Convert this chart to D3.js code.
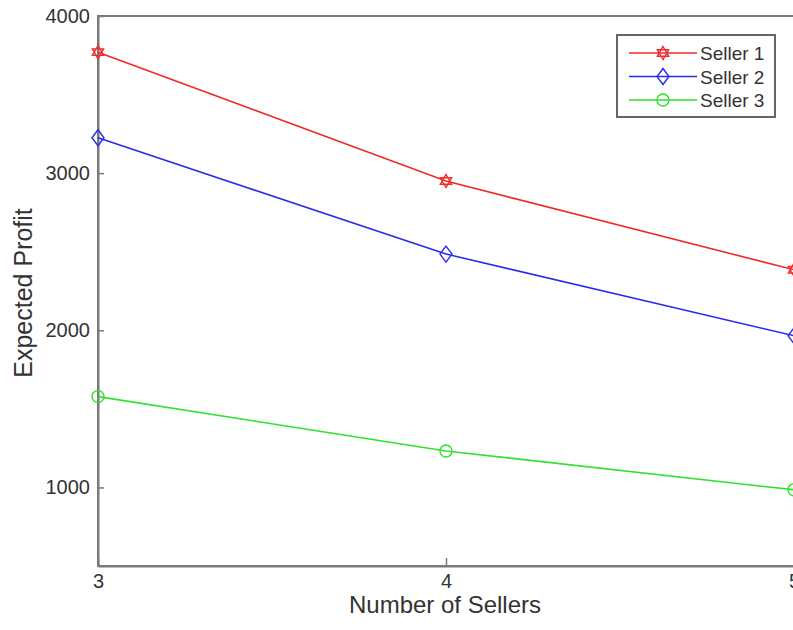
<!DOCTYPE html>
<html>
<head>
<meta charset="utf-8">
<script src="https://cdn.jsdelivr.net/npm/d3@7"></script>
<style>
  body { margin: 0; background: #fff; }
  text { font-family: "Liberation Sans", Arial, sans-serif; fill: #333; }
</style>
</head>
<body>
<svg id="chart" width="793" height="630"></svg>
<script>
// data
var sellerCounts = [3, 4, 5];
var seller1 = [3770, 2950, 2385];
var seller2 = [3225, 2485, 1965];
var seller3 = [1578, 1232, 985];
var yTicks = [1000, 2000, 3000, 4000];
var seriesNames = ["Seller 1", "Seller 2", "Seller 3"];

var margin = {left: 98, top: 16, right: 794, bottom: 566};

var svg = d3.select("#chart");

var x = d3.scaleLinear().domain([3, 5]).range([margin.left, margin.right]);
var y = d3.scaleLinear().domain([500, 4000]).range([margin.bottom, margin.top]);

// box
svg.append("rect")
  .attr("x", margin.left).attr("y", margin.top)
  .attr("width", margin.right - margin.left).attr("height", margin.bottom - margin.top)
  .attr("fill", "none").attr("stroke", "#7a7a7a").attr("stroke-width", 2);

// axes, ticks pointing inside like matlab
var yAxis = svg.append("g")
  .attr("transform", "translate(" + margin.left + ",0)")
  .call(d3.axisLeft(y).tickValues(yTicks).tickFormat(d3.format("d"))
    .tickSizeInner(-6).tickSizeOuter(0).tickPadding(8));
var xAxis = svg.append("g")
  .attr("transform", "translate(0," + margin.bottom + ")")
  .call(d3.axisBottom(x).tickValues(sellerCounts).tickFormat(d3.format("d"))
    .tickSizeInner(-8).tickSizeOuter(0).tickPadding(8));

[yAxis, xAxis].forEach(function(g) {
  g.select(".domain").attr("stroke", "#7a7a7a").attr("stroke-width", 2);
  g.selectAll(".tick line").attr("stroke", "#7a7a7a").attr("stroke-width", 1.5);
  g.selectAll(".tick text").style("font-size", "20px").attr("fill", "#333")
    .style("font-family", "Liberation Sans, Arial, sans-serif");
});

svg.append("text")
  .attr("x", (margin.left + margin.right) / 2 - 1).attr("y", 613)
  .attr("text-anchor", "middle").style("font-size", "24px")
  .text("Number of Sellers");

svg.append("text")
  .attr("transform", "translate(32,293) rotate(-90)")
  .attr("text-anchor", "middle").style("font-size", "25px")
  .text("Expected Profit");

// markers
function hexagram(s) {
  var p = d3.path();
  [[-90, 30, 150], [90, 210, 330]].forEach(function(tri) {
    tri.forEach(function(a, i) {
      var r = a * Math.PI / 180;
      if (i == 0) p.moveTo(s * Math.cos(r), s * Math.sin(r));
      else p.lineTo(s * Math.cos(r), s * Math.sin(r));
    });
    p.closePath();
  });
  return p.toString();
}
function diamond(s) {
  return "M0," + (-s) + "L" + (s * 0.75) + ",0L0," + s + "L" + (-s * 0.75) + ",0Z";
}
function circle(s) {
  return d3.symbol().type(d3.symbolCircle).size(Math.PI * s * s)();
}

var series = [
  {name: seriesNames[0], values: seller1, color: "#ee2a2a", marker: function() { return hexagram(6.5); }},
  {name: seriesNames[1], values: seller2, color: "#2a2aee", marker: function() { return diamond(8); }},
  {name: seriesNames[2], values: seller3, color: "#2ee22e", marker: function() { return circle(6); }}
];

var line = d3.line()
  .x(function(d, i) { return x(sellerCounts[i]); })
  .y(function(d) { return y(d); });

series.forEach(function(s) {
  svg.append("path").datum(s.values)
    .attr("d", line).attr("fill", "none")
    .attr("stroke", s.color).attr("stroke-width", 1.6);
  svg.selectAll(null).data(s.values).enter().append("path")
    .attr("transform", function(d, i) { return "translate(" + x(sellerCounts[i]) + "," + y(d) + ")"; })
    .attr("d", s.marker)
    .attr("fill", "none").attr("stroke", s.color).attr("stroke-width", 1.4);
});

// legend
var leg = svg.append("g").attr("transform", "translate(617,35)");
leg.append("rect").attr("width", 158).attr("height", 82)
  .attr("fill", "#fff").attr("stroke", "#666").attr("stroke-width", 2);
series.forEach(function(s, i) {
  var ly = 18 + i * 23.5;
  leg.append("line").attr("x1", 12).attr("x2", 80).attr("y1", ly).attr("y2", ly)
    .attr("stroke", s.color).attr("stroke-width", 1.6);
  leg.append("path").attr("transform", "translate(46," + ly + ")")
    .attr("d", s.marker).attr("fill", "none").attr("stroke", s.color).attr("stroke-width", 1.4);
  leg.append("text").attr("x", 83).attr("y", ly + 7).style("font-size", "19px").text(s.name);
});
</script>
</body>
</html>
